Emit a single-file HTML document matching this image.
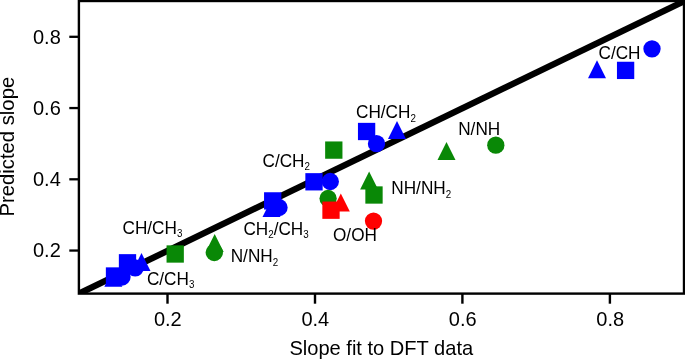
<!DOCTYPE html>
<html><head><meta charset="utf-8"><style>
html,body{margin:0;padding:0;background:#fff;}
svg{display:block;will-change:transform;}
text{font-family:"Liberation Sans",sans-serif;fill:#000;}
</style></head><body>
<svg width="685" height="360" viewBox="0 0 685 360">
<defs><clipPath id="ax"><rect x="78.9" y="1.0" width="605.10" height="292.60"/></clipPath></defs>
<rect width="685" height="360" fill="#fff"/>
<g clip-path="url(#ax)">
<line x1="29" y1="317.77" x2="734" y2="-22.89" stroke="#000" stroke-width="6.3"/>
<polygon points="113.30,268.70 104.30,286.70 122.30,286.70" fill="#0000ff"/><rect x="105.85" y="267.35" width="17.30" height="17.30" fill="#0000ff"/><circle cx="122.00" cy="277.00" r="8.65" fill="#0000ff"/><polygon points="141.50,253.00 132.50,271.00 150.50,271.00" fill="#0000ff"/><rect x="118.85" y="254.15" width="17.30" height="17.30" fill="#0000ff"/><circle cx="135.20" cy="267.80" r="8.65" fill="#0000ff"/><rect x="166.55" y="245.35" width="17.30" height="17.30" fill="#098806"/><polygon points="214.70,234.00 205.70,252.00 223.70,252.00" fill="#098806"/><circle cx="214.30" cy="252.50" r="8.65" fill="#098806"/><polygon points="271.50,198.90 262.50,216.90 280.50,216.90" fill="#0000ff"/><rect x="264.05" y="192.25" width="17.30" height="17.30" fill="#0000ff"/><circle cx="279.00" cy="207.50" r="8.65" fill="#0000ff"/><rect x="305.35" y="173.15" width="17.30" height="17.30" fill="#0000ff"/><circle cx="330.30" cy="181.50" r="8.65" fill="#0000ff"/><circle cx="328.10" cy="198.50" r="8.65" fill="#098806"/><rect x="325.15" y="141.45" width="17.30" height="17.30" fill="#098806"/><polygon points="340.80,193.60 331.80,211.60 349.80,211.60" fill="#ff0000"/><rect x="322.35" y="201.55" width="17.30" height="17.30" fill="#ff0000"/><circle cx="373.50" cy="221.10" r="8.65" fill="#ff0000"/><rect x="357.95" y="122.85" width="17.30" height="17.30" fill="#0000ff"/><circle cx="376.50" cy="143.70" r="8.65" fill="#0000ff"/><polygon points="397.00,121.00 388.00,139.00 406.00,139.00" fill="#0000ff"/><polygon points="369.10,171.50 360.10,189.50 378.10,189.50" fill="#098806"/><rect x="365.35" y="186.35" width="17.30" height="17.30" fill="#098806"/><polygon points="446.50,142.00 437.50,160.00 455.50,160.00" fill="#098806"/><circle cx="495.80" cy="145.20" r="8.65" fill="#098806"/><polygon points="597.00,60.20 588.00,78.20 606.00,78.20" fill="#0000ff"/><rect x="616.95" y="61.75" width="17.30" height="17.30" fill="#0000ff"/><circle cx="652.00" cy="48.80" r="8.65" fill="#0000ff"/>
</g>
<text transform="translate(598.5,58.5) scale(1,1.02)" font-size="17.2">C/CH</text><text transform="translate(356.0,118.2) scale(1,1.02)" font-size="17.2">CH/CH<tspan font-size="9.80" dy="3.5">2</tspan></text><text transform="translate(458.2,135.0) scale(1,1.02)" font-size="17.2">N/NH</text><text transform="translate(262.5,166.8) scale(1,1.02)" font-size="17.2">C/CH<tspan font-size="9.80" dy="3.5">2</tspan></text><text transform="translate(391.3,194.0) scale(1,1.02)" font-size="17.2">NH/NH<tspan font-size="9.80" dy="3.5">2</tspan></text><text transform="translate(243.4,234.5) scale(1,1.02)" font-size="17.2">CH<tspan font-size="9.80" dy="3.5">2</tspan><tspan dy="-3.5">/CH</tspan><tspan font-size="9.80" dy="3.5">3</tspan></text><text transform="translate(122.5,233.8) scale(1,1.02)" font-size="17.2">CH/CH<tspan font-size="9.80" dy="3.5">3</tspan></text><text transform="translate(333.0,240.6) scale(1,1.02)" font-size="17.2">O/OH</text><text transform="translate(230.7,262.4) scale(1,1.02)" font-size="17.2">N/NH<tspan font-size="9.80" dy="3.5">2</tspan></text><text transform="translate(146.9,284.9) scale(1,1.02)" font-size="17.2">C/CH<tspan font-size="9.80" dy="3.5">3</tspan></text>
<rect x="78.9" y="1.0" width="605.10" height="292.60" fill="none" stroke="#000" stroke-width="2.4"/>
<line x1="167.5" y1="293.6" x2="167.5" y2="303.7" stroke="#000" stroke-width="2.4"/><text x="167.8" y="326" font-size="20" text-anchor="middle">0.2</text><line x1="315.0" y1="293.6" x2="315.0" y2="303.7" stroke="#000" stroke-width="2.4"/><text x="315.3" y="326" font-size="20" text-anchor="middle">0.4</text><line x1="462.4" y1="293.6" x2="462.4" y2="303.7" stroke="#000" stroke-width="2.4"/><text x="462.7" y="326" font-size="20" text-anchor="middle">0.6</text><line x1="609.9" y1="293.6" x2="609.9" y2="303.7" stroke="#000" stroke-width="2.4"/><text x="610.2" y="326" font-size="20" text-anchor="middle">0.8</text><line x1="69.3" y1="36.80" x2="78.9" y2="36.80" stroke="#000" stroke-width="2.3"/><text x="60.8" y="43.60" font-size="20" text-anchor="end">0.8</text><line x1="69.3" y1="108.05" x2="78.9" y2="108.05" stroke="#000" stroke-width="2.3"/><text x="60.8" y="114.85" font-size="20" text-anchor="end">0.6</text><line x1="69.3" y1="179.30" x2="78.9" y2="179.30" stroke="#000" stroke-width="2.3"/><text x="60.8" y="186.10" font-size="20" text-anchor="end">0.4</text><line x1="69.3" y1="250.55" x2="78.9" y2="250.55" stroke="#000" stroke-width="2.3"/><text x="60.8" y="257.35" font-size="20" text-anchor="end">0.2</text>
<text x="289.4" y="355.0" font-size="20.08">Slope fit to DFT data</text>
<text transform="translate(14.4,146.7) rotate(-90)" font-size="20.3" text-anchor="middle">Predicted slope</text>
</svg>
</body></html>
